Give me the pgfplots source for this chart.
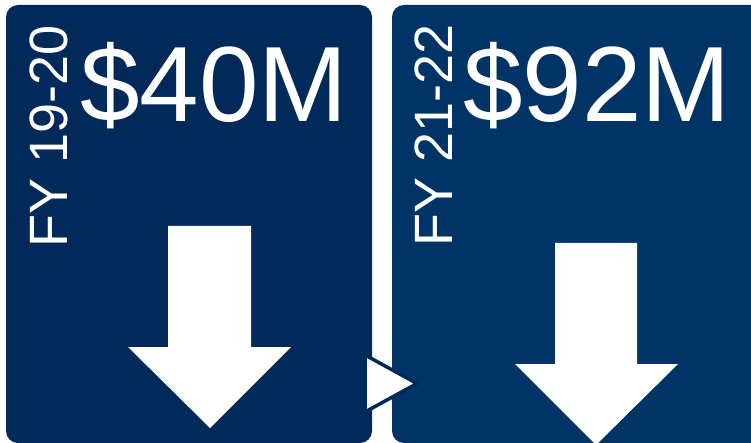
\documentclass[border=0pt]{standalone}
\usepackage{pgfplots}
\pgfplotsset{compat=1.18}
\usepackage{fontspec}
\setmainfont{Liberation Sans}
\definecolor{navyL}{HTML}{012A5A}
\definecolor{navyR}{HTML}{003466}

\begin{document}
\begin{tikzpicture}
\begin{axis}[
    width=751pt, height=443pt,
    scale only axis,
    xmin=0, xmax=751,
    ymin=0, ymax=443,
    y dir=reverse,
    hide axis,
]
    % background
    \addplot[fill=white, draw=none] coordinates {(0,0) (751,0) (751,443) (0,443)} --cycle;

    % panels
    \addplot[fill=navyL, draw=none, rounded corners=12pt]
        coordinates {(6,5) (372,5) (372,443) (6,443)} --cycle;
    \addplot[fill=navyR, draw=none, rounded corners=12pt]
        coordinates {(392,5) (775,5) (775,443) (392,443)} --cycle;

    % down arrows
    \addplot[fill=white, draw=none]
        coordinates {(168,226) (251,226) (251,347) (291,347) (210,428) (128,347) (168,347)} --cycle;
    \addplot[fill=white, draw=none]
        coordinates {(555,243) (637,243) (637,364) (678,364) (596,445) (515,364) (555,364)} --cycle;

    % connector triangle
    \addplot[fill=white, draw=navyL, line width=3.5pt, line join=miter]
        coordinates {(365,355) (365,412) (417,383.5)} --cycle;

    % labels
    \node[anchor=base west, text=white, inner sep=0pt, font=\fontsize{107}{107}\selectfont]
        at (axis cs:80,122) {\$40M};
    \node[anchor=base west, text=white, inner sep=0pt, font=\fontsize{107}{107}\selectfont]
        at (axis cs:463,122) {\$92M};
    \node[anchor=base west, rotate=90, text=white, inner sep=0pt, font=\fontsize{54}{54}\selectfont]
        at (axis cs:67,248) {FY 19-20};
    \node[anchor=base west, rotate=90, text=white, inner sep=0pt, font=\fontsize{54}{54}\selectfont]
        at (axis cs:452,247) {FY 21-22};
\end{axis}
\end{tikzpicture}
\end{document}
